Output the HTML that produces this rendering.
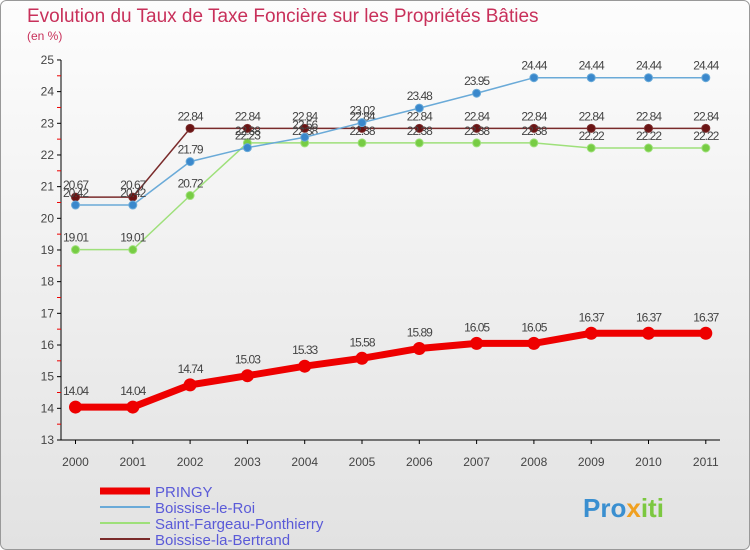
<!DOCTYPE html>
<html><head><meta charset="utf-8"><style>
body{margin:0;}
#c{position:relative;width:750px;height:550px;overflow:hidden;font-family:"Liberation Sans",sans-serif;}
</style></head><body>
<div id="c">
<svg id="s" width="750" height="550" xmlns="http://www.w3.org/2000/svg">
<defs><linearGradient id="bg" x1="0" y1="0" x2="0" y2="1"><stop offset="0" stop-color="#fdfdfd"/><stop offset="1" stop-color="#e2e2e2"/></linearGradient></defs>
<rect x="0.5" y="0.5" width="749" height="549" rx="6" fill="url(#bg)" stroke="#999"/>
<text x="27" y="22" font-size="19" fill="#c8305a">Evolution du Taux de Taxe Foncière sur les Propriétés Bâties</text>
<text x="27" y="40" font-size="12" fill="#c8305a">(en %)</text>
<g id="axes"></g><g id="series"></g><g id="legend"></g>
<text x="583" y="517" font-size="26" font-weight="bold" fill="#3a8fd0">Pro<tspan fill="#f0a020">x</tspan><tspan fill="#7cc840">iti</tspan></text>
</svg></div>
<script>
const years=["2000","2001","2002","2003","2004","2005","2006","2007","2008","2009","2010","2011"];
const yTicks=[13,14,15,16,17,18,19,20,21,22,23,24,25];
const pringy=[14.04,14.04,14.74,15.03,15.33,15.58,15.89,16.05,16.05,16.37,16.37,16.37];
const boissiseRoi=[20.42,20.42,21.79,22.23,22.56,23.02,23.48,23.95,24.44,24.44,24.44,24.44];
const saintFargeau=[19.01,19.01,20.72,22.38,22.38,22.38,22.38,22.38,22.38,22.22,22.22,22.22];
const boissiseBertrand=[20.67,20.67,22.84,22.84,22.84,22.84,22.84,22.84,22.84,22.84,22.84,22.84];
const NS="http://www.w3.org/2000/svg";
const X=i=>75.5+i*57.3;
const Y=v=>440-(v-13)*31.67;
function mk(t,a,p){const e=document.createElementNS(NS,t);for(const k in a)e.setAttribute(k,a[k]);p.appendChild(e);return e;}
const ax=document.getElementById('axes');
let l=mk('line',{x1:61,y1:Y(25),x2:61,y2:Y(13),stroke:'#000'},ax);


l=mk('line',{x1:61,y1:Y(13),x2:720,y2:Y(13),stroke:'#000'},ax);


yTicks.forEach(v=>{
 mk('line',{x1:57,y1:Y(v),x2:61,y2:Y(v),stroke:'#000'},ax);
 if(v<25)mk('line',{x1:57,y1:Y(v+0.5),x2:61,y2:Y(v+0.5),stroke:'#e00'},ax);
 const t=mk('text',{x:54,y:Y(v)+4,'font-size':12,'text-anchor':'end',fill:'#444'},ax);t.textContent=v;
 
 
});
years.forEach((y,i)=>{
 mk('line',{x1:X(i),y1:Y(13),x2:X(i),y2:Y(13)+4,stroke:'#000'},ax);
 const t=mk('text',{x:X(i),y:466,'font-size':12,'text-anchor':'middle',fill:'#444'},ax);t.textContent=y;
 
 
});
const sg=document.getElementById('series');
function series(vals,color,dot,w,r,name){
 const g=mk('g',{},sg);
 
 
 mk('polyline',{points:vals.map((v,i)=>X(i)+','+Y(v)).join(' '),fill:'none',stroke:color,'stroke-width':w},g);
 vals.forEach((v,i)=>{
  const c=mk('circle',{cx:X(i),cy:Y(v),r:r,fill:dot,stroke:color,'stroke-width':w>3?3:1},g);
  
  
  const t=mk('text',{x:X(i),y:Y(v)-(w>3?12:8),'font-size':12,'text-anchor':'middle',fill:'#444','letter-spacing':'-1'},g);
  t.textContent=v.toFixed(2);
  
  
 });
}
series(boissiseBertrand,'#7a2b2b','#6a1414',1.5,4,'series-boissise-la-bertrand');
series(saintFargeau,'#9ee07a','#77cc44',1.5,4,'series-saint-fargeau');
series(boissiseRoi,'#6aaad8','#3a88cc',1.5,4,'series-boissise-le-roi');
series(pringy,'#ee0000','#ee0000',7,5,'series-pringy');
const lg=document.getElementById('legend');
const items=[["PRINGY","#ee0000",7],["Boissise-le-Roi","#6aaad8",2],["Saint-Fargeau-Ponthierry","#9ee07a",2],["Boissise-la-Bertrand","#7a2b2b",2]];
items.forEach((it,i)=>{
 const y=491+i*16;
 const g=mk('g',{},lg);
 
 
 mk('line',{x1:100,y1:y,x2:150,y2:y,stroke:it[1],'stroke-width':it[2]},g);
 const t=mk('text',{x:155,y:y+6,'font-size':15,fill:'#5a5ad8'},g);t.textContent=it[0];
});
</script>
</body></html>
